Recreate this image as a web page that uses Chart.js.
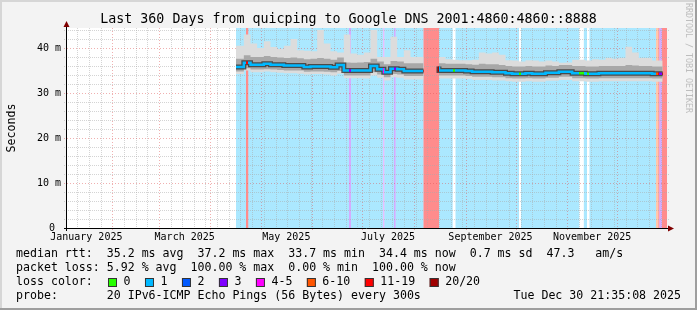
<!DOCTYPE html>
<html>
<head>
<meta charset="utf-8">
<script src="https://cdn.jsdelivr.net/npm/chart.js@4.4.1/dist/chart.umd.min.js"></script>
<style>
  html, body { margin: 0; padding: 0; background: #f3f3f3; }
  canvas { display: block; }
</style>
</head>
<body>
<canvas id="smoke" width="697" height="310" style="width:697px;height:310px"></canvas>
<script>
// x = day of year 2025 (0 = Jan 1 00:00), graph covers the last 360 days
const days = [105.3, 110, 114, 118, 122, 126, 130, 134, 138, 142, 146, 150, 154, 158, 162, 166, 170, 174, 178, 182, 186, 190, 194, 198, 202, 206, 210, 214, 217.8,
  222,
  227.1, 231, 235, 239, 243, 247, 251, 255, 259, 263, 267, 271, 275, 279, 283, 287, 291, 295, 299, 303, 307, 311, 315, 319, 323, 327, 331, 335, 339, 343, 347, 351, 355, 359, 361.3];

// median rtt in ms
const median = [35.8, 35.8, 36.7, 36.3, 36.3, 36.5, 36.3, 36.3, 36.1, 36.1, 36.1, 35.8, 35.9, 35.9, 35.9, 35.7, 36.2, 35.0, 35.0, 35.0, 35.0, 36.0, 35.3, 34.6, 35.4, 35.3, 34.9, 34.9, 34.9,
  null,
  35.9, 35.0, 35.0, 35.0, 35.0, 34.9, 34.7, 34.7, 34.7, 34.6, 34.6, 34.4, 34.3, 34.3, 34.4, 34.3, 34.3, 34.5, 34.5, 34.7, 34.7, 34.4, 34.4, 34.3, 34.3, 34.4, 34.4, 34.4, 34.4, 34.4, 34.4, 34.4, 34.4, 34.3, 34.3];

// smoke: outer (light) and inner (mid gray) bands
const smokeTop = [40.0, 40.5, 43.0, 41.0, 40.0, 41.5, 40.2, 39.8, 40.5, 42.0, 39.5, 39.4, 39.3, 44.0, 41.0, 39.3, 39.0, 43.0, 38.8, 38.5, 39.0, 44.0, 38.0, 38.0, 42.5, 38.0, 39.5, 38.0, 38.0,
  null,
  42.0, 38.0, 37.5, 37.4, 37.3, 37.3, 37.4, 39.0, 38.8, 39.0, 38.5, 37.3, 37.2, 37.0, 37.3, 37.2, 37.0, 37.2, 37.0, 36.7, 36.8, 37.4, 37.4, 37.2, 37.5, 37.4, 37.8, 37.6, 37.8, 40.3, 39.0, 37.8, 37.8, 37.2, 37.2];
const smokeUp = [37.5, 37.6, 38.4, 38.0, 38.0, 38.2, 38.0, 37.9, 37.8, 37.9, 37.7, 37.5, 37.6, 37.8, 37.6, 37.4, 37.9, 36.8, 36.7, 36.8, 36.9, 37.6, 37.0, 36.4, 37.1, 37.0, 36.6, 36.6, 36.6,
  null,
  37.6, 36.6, 36.5, 36.5, 36.5, 36.4, 36.3, 36.5, 36.4, 36.4, 36.2, 36.0, 35.9, 35.9, 36.0, 35.9, 35.9, 36.1, 36.0, 36.2, 36.2, 36.0, 36.0, 35.9, 35.9, 36.0, 36.0, 36.0, 36.0, 36.2, 36.1, 36.0, 36.0, 35.9, 35.9];
const smokeDown = [34.8, 34.8, 35.5, 35.2, 35.2, 35.3, 35.2, 35.1, 35.0, 35.0, 35.0, 34.7, 34.8, 34.8, 34.7, 34.6, 34.9, 33.9, 33.9, 33.9, 33.9, 34.6, 34.1, 33.5, 34.2, 34.1, 33.8, 33.8, 33.8,
  null,
  34.6, 33.9, 33.9, 33.9, 33.9, 33.8, 33.6, 33.6, 33.6, 33.5, 33.5, 33.3, 33.2, 33.2, 33.3, 33.2, 33.2, 33.4, 33.4, 33.6, 33.6, 33.3, 33.3, 33.2, 33.2, 33.3, 33.3, 33.3, 33.3, 33.3, 33.3, 33.3, 33.3, 33.2, 33.2];
const smokeBottom = [34.2, 34.2, 35.0, 34.6, 34.6, 34.8, 34.6, 34.5, 34.4, 34.4, 34.3, 34.1, 34.2, 34.2, 34.1, 33.9, 34.3, 33.3, 33.3, 33.3, 33.2, 33.9, 33.4, 32.8, 33.5, 33.4, 33.0, 33.0, 33.0,
  null,
  34.0, 33.2, 33.2, 33.2, 33.2, 33.1, 32.9, 32.9, 32.9, 32.8, 32.8, 32.6, 32.5, 32.5, 32.6, 32.5, 32.5, 32.7, 32.7, 32.9, 32.9, 32.6, 32.6, 32.5, 32.5, 32.6, 32.6, 32.6, 32.6, 32.6, 32.6, 32.6, 32.6, 32.5, 32.5];

// loss periods: start day and loss class (index into lossLabels), each runs to the next start
const lossStart = [105.3, 111.3, 112.7, 173.1, 174.3, 193.7, 194.3, 200.1, 201.1, 217.8, 227.1, 235.3, 237.0, 275.1, 276.3, 311.3, 314.0, 315.9, 317.4, 357.3, 358.7, 359.3, 360.9];
const lossLevel = [1, 6, 1, 3, 1, 4, 1, 3, 1, 7, 1, 0, 1, 0, 1, 0, 1, 0, 1, 5, 6, 3, 7];
const lossEnd = 363.9;

const lossLabels = ['0', '1', '2', '3', '4-5', '6-10', '11-19', '20/20'];
const lossColors = ['#26ff00', '#00b8ff', '#0059ff', '#7e00ff', '#ff00ff', '#ff5500', '#ff0000', '#a00000'];
const lossBg = ['rgba(0,0,0,0)', 'rgba(0,184,255,0.33)', 'rgba(0,89,255,0.33)', 'rgba(126,0,255,0.33)',
  'rgba(255,0,255,0.33)', 'rgba(255,85,0,0.33)', 'rgba(255,0,0,0.45)', 'rgba(255,0,0,0.45)'];

const xMin = 3.9, xMax = 363.9;
const monthStarts = [31, 59, 90, 120, 151, 181, 212, 243, 273, 304, 334];
const monthLabels = ['January 2025', 'March 2025', 'May 2025', 'July 2025', 'September 2025', 'November 2025'];
const monthLabelDays = [15.5, 74.5, 135.5, 196.5, 258, 319];
const firstWeek = 10;

const yMax = 44.444;
const yTicks = [0, 10, 20, 30, 40];
const yTickLabels = ['0 ', '10 m', '20 m', '30 m', '40 m'];

const title = 'Last 360 Days from quicping to Google DNS 2001:4860:4860::8888';
const legendRtt = 'median rtt:  35.2 ms avg  37.2 ms max  33.7 ms min  34.4 ms now  0.7 ms sd  47.3   am/s';
const legendLoss = 'packet loss: 5.92 % avg  100.00 % max  0.00 % min  100.00 % now';
const legendProbe = 'probe:       20 IPv6-ICMP Echo Pings (56 Bytes) every 300s';
const stamp = 'Tue Dec 30 21:35:08 2025';

const mono = '"DejaVu Sans Mono", "Liberation Mono", monospace';

function pts(vals) {
  return days.map((d, i) => ({ x: d, y: vals[i] }));
}

// median line coloured by loss class, hard stops at each loss period
function lossGradient(context) {
  const chart = context.chart;
  const a = chart.chartArea;
  const xs = chart.scales.x;
  if (!a || !xs) return lossColors[1];
  const w = a.right - a.left;
  const g = chart.ctx.createLinearGradient(a.left, 0, a.right, 0);
  const clamp = v => Math.min(Math.max(v, 0), 1);
  for (let i = 0; i < lossStart.length; i++) {
    const end = i + 1 < lossStart.length ? lossStart[i + 1] : lossEnd;
    const c = lossColors[lossLevel[i]];
    g.addColorStop(clamp((xs.getPixelForValue(lossStart[i]) - a.left) / w), c);
    g.addColorStop(clamp((xs.getPixelForValue(end) - a.left) / w), c);
  }
  return g;
}

function hline(ctx, x0, x1, y) {
  ctx.beginPath(); ctx.moveTo(x0, y); ctx.lineTo(x1, y); ctx.stroke();
}
function vline(ctx, x, y0, y1) {
  ctx.beginPath(); ctx.moveTo(x, y0); ctx.lineTo(x, y1); ctx.stroke();
}

const rrdLook = {
  id: 'rrdLook',
  beforeDraw(chart) {
    const { ctx, chartArea: a, width, height } = chart;
    ctx.save();
    ctx.fillStyle = '#f3f3f3';
    ctx.fillRect(0, 0, width, height);
    ctx.fillStyle = '#d6d6d6';
    ctx.fillRect(0, 0, width, 2);
    ctx.fillRect(0, 0, 2, height);
    ctx.fillStyle = '#9e9e9e';
    ctx.fillRect(0, height - 2, width, 2);
    ctx.fillRect(width - 2, 0, 2, height);
    ctx.fillStyle = '#ffffff';
    ctx.fillRect(a.left, a.top, a.right - a.left, a.bottom - a.top);
    ctx.restore();
  },
  beforeDatasetsDraw(chart) {
    const { ctx, chartArea: a, scales: { x, y } } = chart;
    ctx.save();
    // loss background
    for (let i = 0; i < lossStart.length; i++) {
      if (lossLevel[i] === 0) continue;
      const end = i + 1 < lossStart.length ? lossStart[i + 1] : lossEnd;
      const x0 = x.getPixelForValue(lossStart[i]);
      const x1 = x.getPixelForValue(end);
      ctx.fillStyle = lossBg[lossLevel[i]];
      ctx.fillRect(x0, a.top, x1 - x0, a.bottom - a.top);
    }
    // minor grid
    ctx.lineWidth = 1;
    ctx.setLineDash([1, 1]);
    ctx.strokeStyle = 'rgba(170,170,170,0.5)';
    for (let v = 2; v < yMax; v += 2) {
      if (v % 10 === 0) continue;
      hline(ctx, a.left - 3, a.right + 3, Math.round(y.getPixelForValue(v)) + 0.5);
    }
    for (let d = firstWeek; d < xMax; d += 7) {
      if (monthStarts.includes(d)) continue;
      vline(ctx, Math.round(x.getPixelForValue(d)) + 0.5, a.top, a.bottom + 2);
    }
    // major grid
    ctx.strokeStyle = 'rgba(222,80,80,0.45)';
    ctx.setLineDash([1, 2]);
    yTicks.forEach(v => {
      if (v === 0) return;
      hline(ctx, a.left - 3, a.right + 3, Math.round(y.getPixelForValue(v)) + 0.5);
    });
    monthStarts.forEach(d => {
      vline(ctx, Math.round(x.getPixelForValue(d)) + 0.5, a.top, a.bottom + 3);
    });
    ctx.restore();
  },
  afterDatasetsDraw(chart) {
    const { ctx, chartArea: a, scales: { x, y }, width } = chart;
    ctx.save();
    // axes
    ctx.strokeStyle = '#000000';
    ctx.lineWidth = 1;
    vline(ctx, a.left - 0.5, a.bottom + 3, a.top - 2);
    hline(ctx, a.left - 3, a.right + 2, a.bottom + 0.5);
    ctx.fillStyle = '#800000';
    ctx.beginPath();
    ctx.moveTo(a.left - 0.5, a.top - 7);
    ctx.lineTo(a.left - 3.5, a.top - 1);
    ctx.lineTo(a.left + 2.5, a.top - 1);
    ctx.closePath();
    ctx.fill();
    ctx.beginPath();
    ctx.moveTo(a.right + 7, a.bottom + 0.5);
    ctx.lineTo(a.right + 1, a.bottom - 2.5);
    ctx.lineTo(a.right + 1, a.bottom + 3.5);
    ctx.closePath();
    ctx.fill();

    ctx.fillStyle = '#000000';
    ctx.textBaseline = 'middle';
    // y tick labels
    ctx.font = '10px ' + mono;
    ctx.textAlign = 'right';
    yTicks.forEach((v, i) => ctx.fillText(yTickLabels[i], a.left - 6, y.getPixelForValue(v)));
    // x labels, centred on the month
    ctx.textAlign = 'center';
    monthLabels.forEach((t, i) => ctx.fillText(t, x.getPixelForValue(monthLabelDays[i]), a.bottom + 9));

    // title
    ctx.font = '13.3px ' + mono;
    ctx.fillText(title, width / 2, 19.5);

    // y title
    ctx.font = '11.6px ' + mono;
    ctx.save();
    ctx.translate(11.5, (a.top + a.bottom) / 2);
    ctx.rotate(-Math.PI / 2);
    ctx.fillText('Seconds', 0, 0);
    ctx.restore();

    // legend
    ctx.textAlign = 'left';
    ctx.fillText(legendRtt, 16, 254.3);
    ctx.fillText(legendLoss, 16, 268.3);
    ctx.fillText('loss color:', 16, 282.3);
    ctx.fillText(legendProbe, 16, 296.3);
    ctx.textAlign = 'right';
    ctx.fillText(stamp, 681, 296.3);
    ctx.textAlign = 'left';
    let bx = 108;
    lossLabels.forEach((lab, i) => {
      ctx.fillStyle = lossColors[i];
      ctx.fillRect(bx, 278, 9, 9);
      ctx.strokeStyle = '#333333';
      ctx.strokeRect(bx + 0.5, 278.5, 8, 8);
      ctx.fillStyle = '#000000';
      ctx.fillText(lab, bx + 15.5, 282.3);
      bx += 30 + ctx.measureText(lab).width;
    });

    // watermark
    ctx.fillStyle = '#bdbdbd';
    ctx.font = '8.3px ' + mono;
    ctx.translate(688, 3);
    ctx.rotate(Math.PI / 2);
    ctx.fillText('RRDTOOL / TOBI OETIKER', 0, 0);
    ctx.restore();
  }
};

const stepLine = {
  stepped: 'after',
  pointRadius: 0,
  borderJoinStyle: 'miter',
  borderCapStyle: 'butt'
};

new Chart(document.getElementById('smoke'), {
  type: 'line',
  data: {
    datasets: [
      { ...stepLine, data: pts(median), borderColor: lossGradient, borderWidth: 2.5, fill: false, order: 0 },
      { ...stepLine, data: pts(median), borderColor: 'rgba(50,50,50,0.8)', borderWidth: 5, fill: false, order: 1 },
      { ...stepLine, data: pts(smokeUp), borderColor: 'rgba(0,0,0,0)', borderWidth: 0, fill: '+1', backgroundColor: '#a8a8a8', order: 2 },
      { ...stepLine, data: pts(smokeDown), borderColor: 'rgba(0,0,0,0)', borderWidth: 0, fill: false, order: 2 },
      { ...stepLine, data: pts(smokeTop), borderColor: 'rgba(0,0,0,0)', borderWidth: 0, fill: '+1', backgroundColor: '#dcdcdc', order: 3 },
      { ...stepLine, data: pts(smokeBottom), borderColor: 'rgba(0,0,0,0)', borderWidth: 0, fill: false, order: 3 }
    ]
  },
  options: {
    responsive: false,
    animation: false,
    devicePixelRatio: 1,
    events: [],
    layout: { padding: { left: 67, right: 30, top: 28, bottom: 82 } },
    scales: {
      x: { type: 'linear', min: xMin, max: xMax, display: false },
      y: { type: 'linear', min: 0, max: yMax, display: false }
    },
    plugins: {
      legend: { display: false },
      tooltip: { enabled: false }
    }
  },
  plugins: [rrdLook]
});
</script>
</body>
</html>
